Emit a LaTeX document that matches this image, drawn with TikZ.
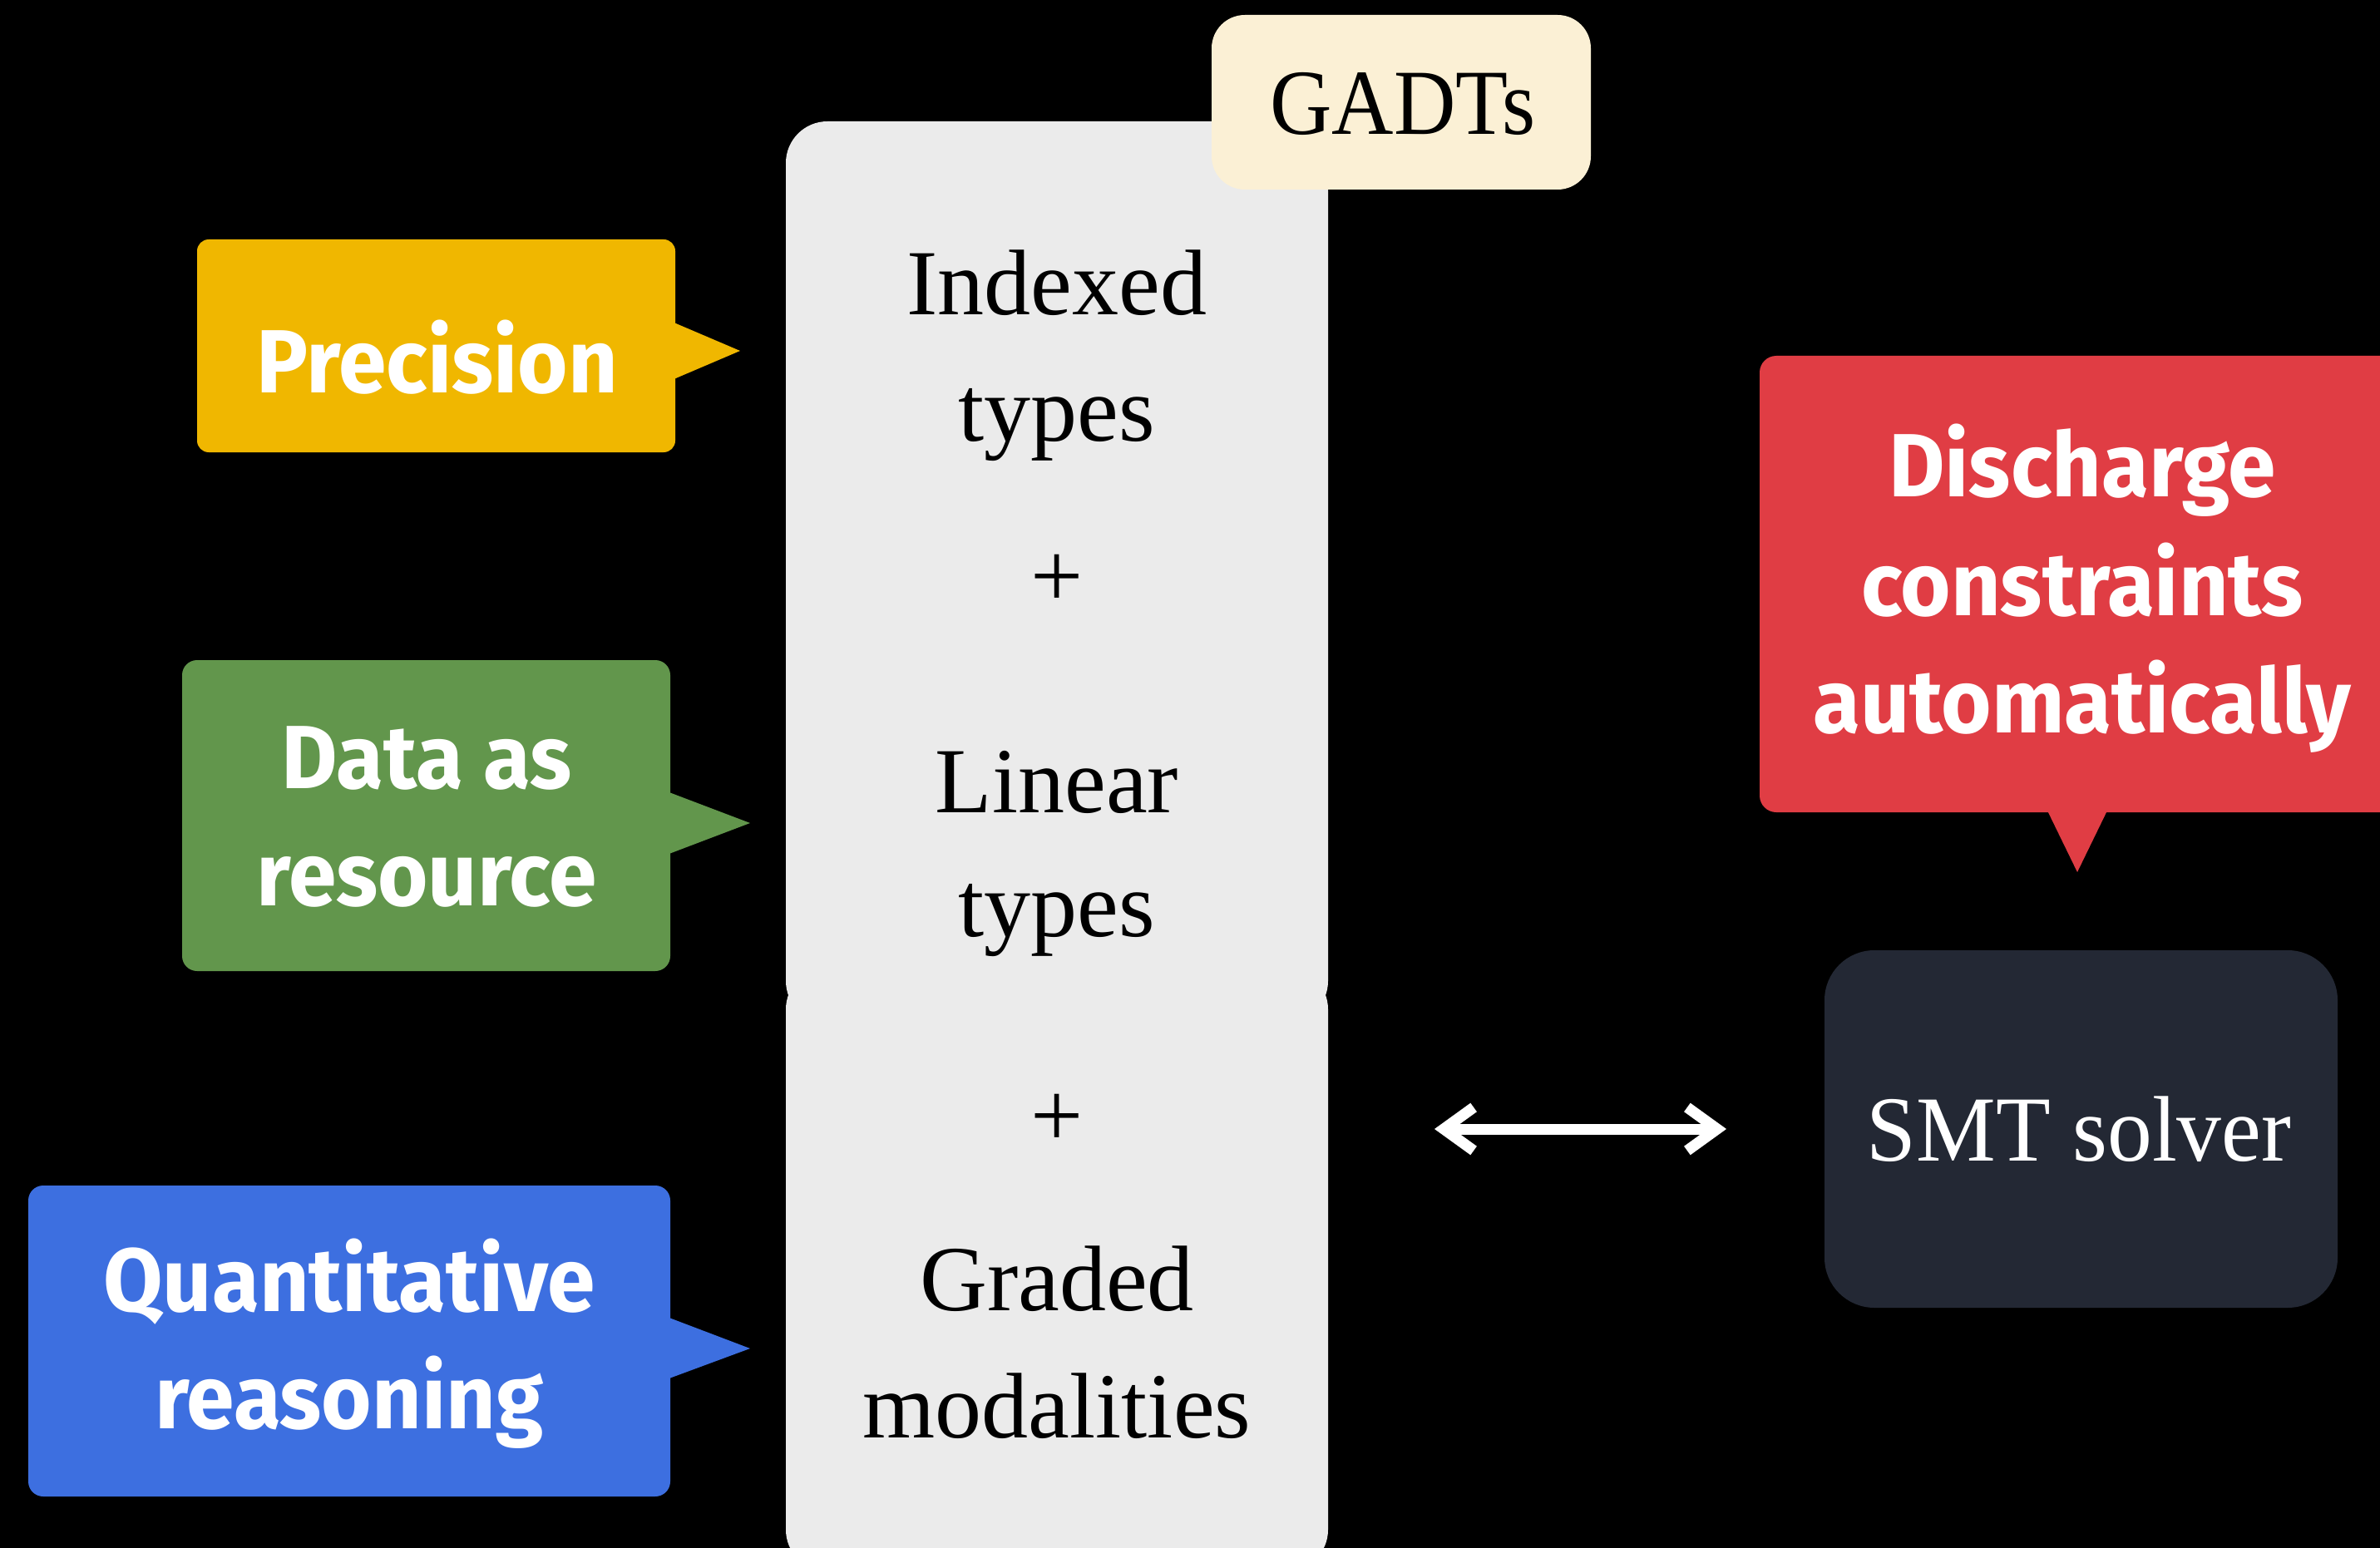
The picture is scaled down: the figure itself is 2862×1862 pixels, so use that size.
\documentclass[tikz,border=0pt]{standalone}
\usepackage{fontspec}
\setmainfont{Liberation Serif}
\setsansfont{Fira Sans}[FakeStretch=0.96]
\newfontfamily\serifnarrow{Liberation Serif}[FakeStretch=0.92]
\newfontfamily\serifslim{Liberation Serif}[FakeStretch=0.96]
\usetikzlibrary{arrows.meta}
\newdimen\pxu \pxu=0.25pt
\definecolor{cyellow}{HTML}{F0B700}
\definecolor{cgreen}{HTML}{62964C}
\definecolor{cblue}{HTML}{3D6FE0}
\definecolor{cred}{HTML}{E03D44}
\definecolor{cgray}{HTML}{EBEBEB}
\definecolor{ccream}{HTML}{FBF0D5}
\definecolor{cslate}{HTML}{232834}
\tikzset{
  shapebox/.style={inner sep=0, outer sep=0, draw=none},
  calltext/.style={text=white, inner sep=0, anchor=base,
    font=\sffamily\bfseries\fontsize{27pt}{35pt}\selectfont},
  serftext/.style={text=black, inner sep=0, anchor=base,
    font=\rmfamily\fontsize{28pt}{37pt}\selectfont},
  dblarrow/.style={draw=white, line width=3.25pt,
    {Straight Barb[length=9pt,width=13pt]}-{Straight Barb[length=9pt,width=13pt]}}
}
\begin{document}
\begin{tikzpicture}[x=0.25pt,y=-0.25pt]
\useasboundingbox (0,0) rectangle (2862,1862);
\fill[black] (0,0) rectangle (2862,1862);
\begin{scope}
\clip (0,0) rectangle (2862,1862);

% central stacked boxes
\node[shapebox, fill=cgray, rounded corners=12.5pt, minimum width=652\pxu, minimum height=1084\pxu] (upper) at (1271,688) {};
\node[shapebox, fill=cgray, rounded corners=12.5pt, minimum width=652\pxu, minimum height=726\pxu] (lower) at (1271,1527) {};

% GADTs tag
\node[shapebox, fill=ccream, rounded corners=10pt, minimum width=456\pxu, minimum height=210\pxu] (gadts) at (1685,123) {};
\node[serftext, font=\serifnarrow\fontsize{28pt}{37pt}\selectfont] (gadtsT) at (1687,162) {GADTs};

% texts in central box
\node[serftext] (idx) at (1271,379) {Indexed};
\node[serftext] (ty1) at (1271,530) {types};
\node[serftext, anchor=center] (pl1) at (1271,699) {+};
\node[serftext] (lin) at (1271,977) {Linear};
\node[serftext] (ty2) at (1271,1126) {types};
\node[serftext, anchor=center] (pl2) at (1271,1348) {+};
\node[serftext] (grd) at (1271,1576) {Graded};
\node[serftext] (mod) at (1271,1729) {modalities};

% Precision callout
\node[shapebox, fill=cyellow, rounded corners=3.5pt, minimum width=575\pxu, minimum height=256\pxu] (prec) at (524.5,416) {};
\fill[cyellow] ([xshift=-1pt]prec.east |- 0,387) -- (890,422) -- ([xshift=-1pt]prec.east |- 0,457) -- cycle;
\node[calltext] (precT) at (526,472) {Precision};

% Data as resource callout
\node[shapebox, fill=cgreen, rounded corners=4.5pt, minimum width=587\pxu, minimum height=374\pxu] (data) at (512.5,981) {};
\fill[cgreen] ([xshift=-1pt]data.east |- 0,952) -- (902,990) -- ([xshift=-1pt]data.east |- 0,1028) -- cycle;
\node[calltext] (dataT1) at (513,948) {Data as};
\node[calltext] (dataT2) at (513,1089) {resource};

% Quantitative reasoning callout
\node[shapebox, fill=cblue, rounded corners=4.5pt, minimum width=772\pxu, minimum height=374\pxu] (quant) at (420,1613) {};
\fill[cblue] ([xshift=-1pt]quant.east |- 0,1584) -- (902,1622) -- ([xshift=-1pt]quant.east |- 0,1659) -- cycle;
\node[calltext] (quantT1) at (420,1577) {Quantitative};
\node[calltext] (quantT2) at (420,1718) {reasoning};

% Discharge callout
\node[shapebox, fill=cred, rounded corners=5pt, minimum width=774\pxu, minimum height=549\pxu] (disc) at (2503,702.5) {};
\fill[cred] ([yshift=1pt]disc.south -| 2461,0) -- (2498,1049) -- ([yshift=1pt]disc.south -| 2535,0) -- cycle;
\node[calltext] (discT1) at (2504,598) {Discharge};
\node[calltext] (discT2) at (2504,740) {constraints};
\node[calltext] (discT3) at (2504,881) {automatically};

% SMT solver
\node[shapebox, fill=cslate, rounded corners=15pt, minimum width=617\pxu, minimum height=430\pxu] (smt) at (2502.5,1358) {};
\node[serftext, text=white, font=\serifslim\fontsize{28pt}{37pt}\selectfont] (smtT) at (2500,1396) {SMT solver};

% connector
\draw[dblarrow, shorten <=32pt, shorten >=29.5pt] (lower.east |- smt.west) -- (smt.west);
\end{scope}
\end{tikzpicture}
\end{document}
